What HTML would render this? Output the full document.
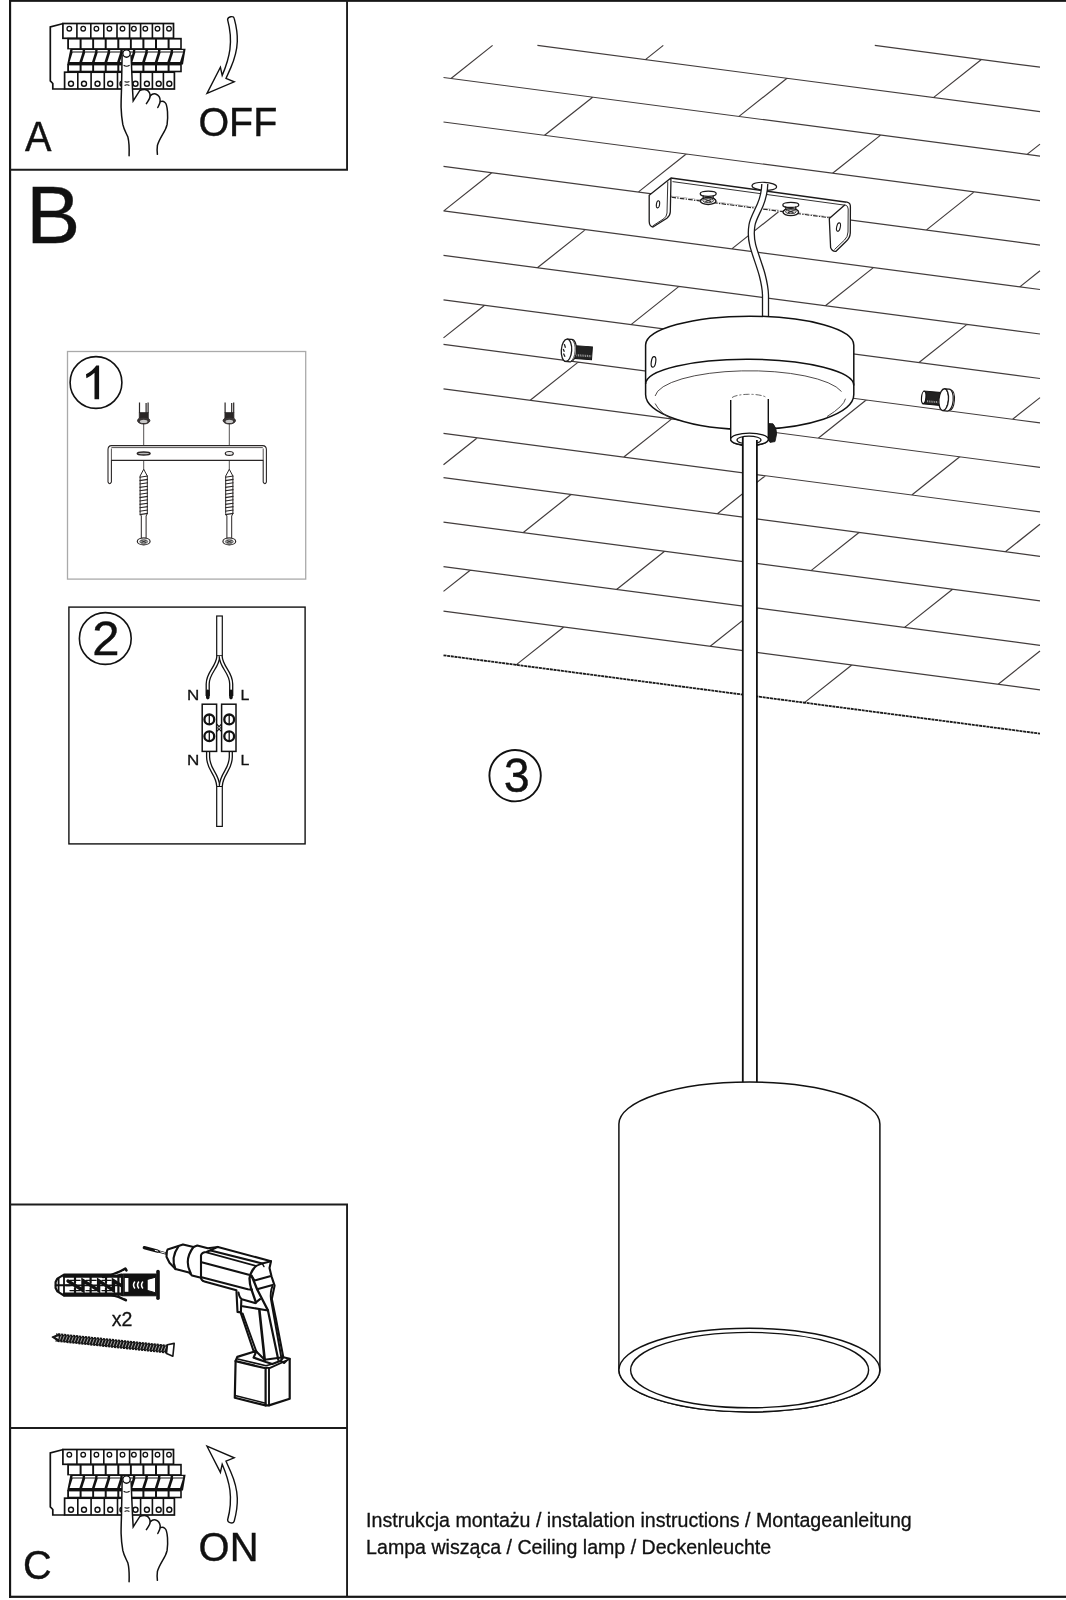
<!DOCTYPE html>
<html><head><meta charset="utf-8"><title>Instrukcja</title>
<style>
html,body{margin:0;padding:0;background:#fff}
svg{display:block;will-change:transform}
text{font-family:"Liberation Sans",sans-serif;fill:#111}
</style></head><body>
<svg width="1066" height="1600" viewBox="0 0 1066 1600">
<rect width="1066" height="1600" fill="#fff"/>
<path d="M874.8 45.4L1040 67.2M537.4 45.4L1040 111.6M443.5 77.5L1040 156.1M443.5 122L1040 200.6M443.5 166.4L1040 245.1M443.5 210.9L1040 289.5M443.5 255.4L1040 334M443.5 299.9L1040 378.5M443.5 344.3L1040 422.9M443.5 388.8L1040 467.4M443.5 433.3L1040 511.9M443.5 477.7L1040 556.3M443.5 522.2L1040 600.8M443.5 566.7L1040 645.3M443.5 611.1L1040 689.8M645.4 59.6L663.3 45.4M933.4 97.6L981.4 59.5M451 78.5L492.6 45.4M739 116.4L787 78.3M1027 154.4L1040 144.1M544.6 135.3L592.6 97.2M832.6 173.3L880.6 135.1M638.2 192.1L686.2 154M926.2 230.1L974.2 191.9M443.8 210.9L491.8 172.8M731.8 248.9L779.8 210.8M1019.8 286.9L1040 270.8M537.4 267.8L585.4 229.6M825.4 305.7L873.4 267.6M631 324.6L679 286.4M919 362.5L967 324.4M443.5 337.9L484.6 305.3M724.6 381.4L772.6 343.2M1012.6 419.3L1040 397.6M530.2 400.2L578.2 362.1M818.2 438.2L866.2 400M623.8 457L671.8 418.9M911.8 495L959.8 456.8M443.5 464.7L477.4 437.7M717.4 513.8L765.4 475.7M1005.4 551.8L1040 524.3M523 532.7L571 494.5M811 570.6L859 532.5M616.6 589.5L664.6 551.3M904.6 627.4L952.6 589.3M443.5 591.4L470.2 570.2M710.2 646.3L758.2 608.1M998.2 684.2L1040 651M515.8 665.1L563.8 627M803.8 703.1L851.8 665" fill="none" stroke="#433d3d" stroke-width="1.2"/>
<path d="M443.5 655.3L1040 733.6" fill="none" stroke="#1a1a1a" stroke-width="1.8" stroke-dasharray="3 0.7"/>
<path d="M670.9 178.1L649.2 195.2L649.2 221.5Q649.4 226.6 653 227L666.9 218.2Q670 216 670.3 212L670.9 183Z" fill="#fff" stroke="#1c1a1a" stroke-width="1.3" stroke-linejoin="round"/>
<path d="M667.8 181.5L667 213Q666.6 216.6 664 218.6L652.6 226" fill="none" stroke="#1c1a1a" stroke-width="0.9"/>
<ellipse cx="658" cy="204.3" rx="1.6" ry="3.6" fill="#fff" stroke="#1c1a1a" stroke-width="1.1" transform="rotate(8 658 204.3)"/>
<path d="M670.9 178.1L847 202.2" fill="none" stroke="#1c1a1a" stroke-width="1.5"/>
<path d="M672.5 181.6L845 205.2" fill="none" stroke="#1c1a1a" stroke-width="0.9"/>
<path d="M847 202.2Q850.6 203 850.4 207L850.3 233Q850 238 846 241.5L836 251.3Q832 251.6 830.6 247.5L829.3 218.6L845 204.8" fill="#fff" stroke="#1c1a1a" stroke-width="1.3" stroke-linejoin="round"/>
<path d="M845 204.8Q848.2 205.6 848.2 209L848 232Q847.8 237 844.5 240L834.4 249.6" fill="none" stroke="#1c1a1a" stroke-width="0.9"/>
<ellipse cx="838.5" cy="227.1" rx="1.8" ry="4.3" fill="#fff" stroke="#1c1a1a" stroke-width="1.1" transform="rotate(12 838.5 227.1)"/>
<path d="M671.5 197.2L828.5 217.6" fill="none" stroke="#fff" stroke-width="2.2"/>
<path d="M671.5 197.2L828.5 217.6" fill="none" stroke="#2a2828" stroke-width="1.2" stroke-dasharray="4.6 1.2 1.4 1.2"/>
<g transform="translate(708.2 198.4)">
<ellipse cx="0" cy="-4.6" rx="8" ry="2.6" fill="#fff" stroke="#1c1a1a" stroke-width="1.3"/>
<path d="M-5.4 -3Q-3.6 -0.6 -7.4 1.4M5.4 -3Q3.6 -0.6 7.4 1.4" fill="none" stroke="#1c1a1a" stroke-width="1.3"/>
<ellipse cx="0" cy="2.6" rx="7.8" ry="3.5" fill="#fff" stroke="#1c1a1a" stroke-width="1.4"/>
<ellipse cx="0" cy="2.2" rx="5.4" ry="2" fill="#d6d2d2" stroke="#333" stroke-width="0.9"/>
<path d="M-2.8 1.2L2.8 3.2M2.8 1.2L-2.8 3.2" stroke="#222" stroke-width="1"/>
</g>
<g transform="translate(790.8 209.5)">
<ellipse cx="0" cy="-4.6" rx="8" ry="2.6" fill="#fff" stroke="#1c1a1a" stroke-width="1.3"/>
<path d="M-5.4 -3Q-3.6 -0.6 -7.4 1.4M5.4 -3Q3.6 -0.6 7.4 1.4" fill="none" stroke="#1c1a1a" stroke-width="1.3"/>
<ellipse cx="0" cy="2.6" rx="7.8" ry="3.5" fill="#fff" stroke="#1c1a1a" stroke-width="1.4"/>
<ellipse cx="0" cy="2.2" rx="5.4" ry="2" fill="#d6d2d2" stroke="#333" stroke-width="0.9"/>
<path d="M-2.8 1.2L2.8 3.2M2.8 1.2L-2.8 3.2" stroke="#222" stroke-width="1"/>
</g>
<ellipse cx="764.3" cy="186.3" rx="12.3" ry="4" fill="#fff" stroke="#1c1a1a" stroke-width="1.2" transform="rotate(3 764.3 186.3)"/>
<path d="M764.8 184C764.6 190 763.6 197 760.2 205C757 212.5 753 219 752 225C750.8 232 751 238 752.7 245C755 254 759.5 265 762.2 275C764 282 765.3 288 765.5 295L765.5 320" fill="none" stroke="#1c1a1a" stroke-width="7.3"/>
<path d="M764.8 184C764.6 190 763.6 197 760.2 205C757 212.5 753 219 752 225C750.8 232 751 238 752.7 245C755 254 759.5 265 762.2 275C764 282 765.3 288 765.5 295L765.5 320" fill="none" stroke="#fff" stroke-width="4.7"/>
<g transform="translate(566.5 350.3) rotate(4)">
<path d="M9 -5.2L25.6 -5.2L25.6 7.6L9 7.6Z" fill="#222" stroke="#111" stroke-width="1"/>
<path d="M10 4.2L25 4.2" stroke="#999" stroke-width="2.2" stroke-dasharray="1 0.8"/>
<path d="M0 -11.2L4.5 -11.2A5.6 11.2 0 0 1 4.5 11.2L0 11.2Z" fill="#fff" stroke="#1c1a1a" stroke-width="1.2"/>
<ellipse cx="0" cy="0" rx="5.2" ry="11.2" fill="#fff" stroke="#1c1a1a" stroke-width="1.3"/>
<path d="M5 -10.5A5.2 11 0 0 1 5 10.5" fill="none" stroke="#1c1a1a" stroke-width="0.8"/>
<path d="M-2.6 -6L-1.2 -2.5M-3.4 -1L-2 1.6M-2.8 3.4L-1 6.5" stroke="#222" stroke-width="1.3"/>
</g>
<g transform="translate(947.2 400) rotate(5)">
<path d="M-24 -7L-4 -7L-4 6L-24 6Z" fill="#222" stroke="#111" stroke-width="1"/>
<path d="M-20 3L-6 3" stroke="#999" stroke-width="2" stroke-dasharray="1 0.8"/>
<ellipse cx="-23.6" cy="-0.5" rx="2.2" ry="6.2" fill="#fff" stroke="#111" stroke-width="1.2"/>
<ellipse cx="-3.5" cy="0" rx="4.8" ry="11" fill="#fff" stroke="#1c1a1a" stroke-width="1.3"/>
<path d="M-3.5 -11L1 -11A5 11 0 0 1 1 11L-3.5 11A4.8 11 0 0 0 -3.5 -11Z" fill="#fff" stroke="#1c1a1a" stroke-width="1.2"/>
<path d="M3.2 -10.4A5 10.6 0 0 1 3.2 10.4" fill="none" stroke="#1c1a1a" stroke-width="1"/>
</g>
<path d="M645.6 345A104.1 29 0 0 1 853.8 345.3L853.8 394.5A104.1 35 0 0 1 645.6 394.5Z" fill="#fff" stroke="#111" stroke-width="1.5" stroke-linejoin="round"/>
<path d="M645.6 384A104.1 25.5 0.4 0 1 853.8 385.5" fill="none" stroke="#111" stroke-width="1.5"/>
<path d="M655.1 396A94.6 27 0 0 1 841.5 391.5" fill="none" stroke="#3a3636" stroke-width="0.9"/>
<path d="M655.1 403.5Q660 413 671 418.4M845.5 398.7Q844 406 827 416.6" fill="none" stroke="#3a3636" stroke-width="0.9"/>
<ellipse cx="653.5" cy="361.9" rx="2.2" ry="5.3" fill="#fff" stroke="#111" stroke-width="1.2" transform="rotate(9 653.5 361.9)"/>
<path d="M730.7 400L730.7 439.5A18.8 6.2 0 0 0 768.3 439.5L768.3 399Z" fill="#fff" stroke="none"/>
<path d="M730.7 400L730.7 439.5A18.8 6.2 0 0 0 768.3 439.5L768.3 399" fill="none" stroke="#111" stroke-width="1.4"/>
<path d="M732 397.6A18 4.6 0 0 1 766 397.2" fill="none" stroke="#555" stroke-width="0.9" stroke-dasharray="6 2 2 2"/>
<ellipse cx="749.5" cy="439.3" rx="18.8" ry="6.2" fill="#fff" stroke="#111" stroke-width="1.3"/>
<ellipse cx="749" cy="440" rx="12" ry="3.9" fill="#fff" stroke="#111" stroke-width="1.2"/>
<path d="M768.6 423.5L773 423.8Q776.8 428 776.6 434L775 441.6L770 442.4L768.6 440Z" fill="#1d1d1d" stroke="#111" stroke-width="0.8"/>
<rect x="742.7" y="438.5" width="14.1" height="646" fill="#fff" stroke="none"/>
<path d="M742.8 437L742.8 1083M756.9 440L756.9 1083" fill="none" stroke="#111" stroke-width="1.8"/>
<path d="M618.9 1124A130.5 42 0 0 1 879.9 1124L879.9 1370.1A130.5 41.8 0 0 1 618.9 1370.1Z" fill="#fff" stroke="#111" stroke-width="1.5"/>
<ellipse cx="749.4" cy="1370.1" rx="130.5" ry="41.8" fill="#fff" stroke="#111" stroke-width="1.5"/>
<ellipse cx="749.6" cy="1370.1" rx="119" ry="37.7" fill="#fff" stroke="#111" stroke-width="1.4"/>
<circle cx="515.1" cy="775.7" r="25.7" fill="#fff" stroke="#111" stroke-width="1.9"/>
<text transform="translate(503.86 791.92) scale(0.9597 1)" font-size="48.48" stroke="#111" stroke-width="0.4">3</text>
<text transform="translate(366.1 1527) scale(0.975 1)" font-size="20.1" stroke="#111" stroke-width="0.3">Instrukcja montażu / instalation instructions / Montageanleitung</text>
<text transform="translate(366.1 1553.7) scale(0.975 1)" font-size="20.1" stroke="#111" stroke-width="0.3">Lampa wisząca / Ceiling lamp / Deckenleuchte</text>
<rect x="9" y="0" width="1057" height="1.85" fill="#161616"/>
<rect x="9" y="0" width="2.15" height="1597.9" fill="#161616"/>
<rect x="9" y="1595.7" width="1057" height="2.2" fill="#161616"/>
<path d="M347.05 0L347.05 169.7L10 169.7" fill="none" stroke="#1c1c1c" stroke-width="1.9"/>
<path d="M10 1204.5L347.05 1204.5L347.05 1596.5M10 1428.05L347.05 1428.05" fill="none" stroke="#1c1c1c" stroke-width="1.9"/>
<g><path d="M63.4 23.5L50.3 26.9L50.3 80.9L52.8 83.5L52.8 89L64.6 89" fill="#fff" stroke="#111" stroke-width="1.7" stroke-linejoin="miter"/>
<rect x="62.9" y="23.5" width="110.6" height="14.8" fill="#fff" stroke="#111" stroke-width="1.7"/>
<path d="M76.9 23.5V38M90.8 23.5V38M103.8 23.5V38M117 23.5V38M129.6 23.5V38M140.6 23.5V38M152.4 23.5V38M163.4 23.5V38" stroke="#111" stroke-width="1.6" fill="none"/>
<circle cx="69.3" cy="28.7" r="2.3" fill="#fff" stroke="#111" stroke-width="1.3"/>
<circle cx="83.2" cy="28.7" r="2.3" fill="#fff" stroke="#111" stroke-width="1.3"/>
<circle cx="96.4" cy="28.7" r="2.3" fill="#fff" stroke="#111" stroke-width="1.3"/>
<circle cx="109.4" cy="28.7" r="2.3" fill="#fff" stroke="#111" stroke-width="1.3"/>
<circle cx="122.5" cy="28.7" r="2.3" fill="#fff" stroke="#111" stroke-width="1.3"/>
<circle cx="133.9" cy="28.7" r="2.3" fill="#fff" stroke="#111" stroke-width="1.3"/>
<circle cx="145.3" cy="28.7" r="2.3" fill="#fff" stroke="#111" stroke-width="1.3"/>
<circle cx="157.5" cy="28.7" r="2.3" fill="#fff" stroke="#111" stroke-width="1.3"/>
<circle cx="169" cy="28.7" r="2.3" fill="#fff" stroke="#111" stroke-width="1.3"/>
<rect x="67.2" y="37.8" width="114.6" height="11.6" fill="#111"/>
<rect x="69" y="39.6" width="10.6" height="8.6" fill="#fff"/>
<rect x="81.6" y="39.6" width="10.6" height="8.6" fill="#fff"/>
<rect x="94.1" y="39.6" width="10.6" height="8.6" fill="#fff"/>
<rect x="106.7" y="39.6" width="10.6" height="8.6" fill="#fff"/>
<rect x="119.3" y="39.6" width="10.6" height="8.6" fill="#fff"/>
<rect x="131.8" y="39.6" width="10.6" height="8.6" fill="#fff"/>
<rect x="144.4" y="39.6" width="10.6" height="8.6" fill="#fff"/>
<rect x="157" y="39.6" width="10.6" height="8.6" fill="#fff"/>
<rect x="169.6" y="39.6" width="10.6" height="8.6" fill="#fff"/>
<path d="M70.4 48.8L185.6 48.8L183 64.6L67.2 64.6Z" fill="#111"/>
<path d="M72.6 49.9H82.6V51.5H72.2Z" fill="#fff"/>
<path d="M69.6 62L72.6 52.5L82.4 52.5L79.4 62Z" fill="#fff"/>
<path d="M85.2 49.9H95.2V51.5H84.8Z" fill="#fff"/>
<path d="M82.2 62L85.2 52.5L95 52.5L92 62Z" fill="#fff"/>
<path d="M97.7 49.9H107.7V51.5H97.3Z" fill="#fff"/>
<path d="M94.7 62L97.7 52.5L107.5 52.5L104.5 62Z" fill="#fff"/>
<path d="M110.3 49.9H120.3V51.5H109.9Z" fill="#fff"/>
<path d="M107.3 62L110.3 52.5L120.1 52.5L117.1 62Z" fill="#fff"/>
<path d="M122.9 49.9H132.9V51.5H122.5Z" fill="#fff"/>
<path d="M119.9 62L122.9 52.5L132.7 52.5L129.7 62Z" fill="#fff"/>
<path d="M135.4 49.9H145.4V51.5H135.1Z" fill="#fff"/>
<path d="M132.4 62L135.4 52.5L145.2 52.5L142.2 62Z" fill="#fff"/>
<path d="M148 49.9H158V51.5H147.6Z" fill="#fff"/>
<path d="M145 62L148 52.5L157.8 52.5L154.8 62Z" fill="#fff"/>
<path d="M160.6 49.9H170.6V51.5H160.2Z" fill="#fff"/>
<path d="M157.6 62L160.6 52.5L170.4 52.5L167.4 62Z" fill="#fff"/>
<path d="M173.2 49.9H183.2V51.5H172.8Z" fill="#fff"/>
<path d="M170.2 62L173.2 52.5L183 52.5L180 62Z" fill="#fff"/>
<rect x="67.2" y="64" width="114.6" height="8.3" fill="#111"/>
<rect x="69" y="65.4" width="10.6" height="5.3" fill="#fff"/>
<rect x="81.6" y="65.4" width="10.6" height="5.3" fill="#fff"/>
<rect x="94.1" y="65.4" width="10.6" height="5.3" fill="#fff"/>
<rect x="106.7" y="65.4" width="10.6" height="5.3" fill="#fff"/>
<rect x="119.3" y="65.4" width="10.6" height="5.3" fill="#fff"/>
<rect x="131.8" y="65.4" width="10.6" height="5.3" fill="#fff"/>
<rect x="144.4" y="65.4" width="10.6" height="5.3" fill="#fff"/>
<rect x="157" y="65.4" width="10.6" height="5.3" fill="#fff"/>
<rect x="169.6" y="65.4" width="10.6" height="5.3" fill="#fff"/>
<rect x="64.6" y="72.2" width="109.8" height="16.8" fill="#fff" stroke="#111" stroke-width="1.7"/>
<path d="M77.8 72.2V89M91.1 72.2V89M104.3 72.2V89M117.5 72.2V89M129.5 72.2V89M140.6 72.2V89M152.4 72.2V89M163.4 72.2V89" stroke="#111" stroke-width="1.6" fill="none"/>
<circle cx="71" cy="83.8" r="2.5" fill="#fff" stroke="#111" stroke-width="1.4"/>
<circle cx="84" cy="83.8" r="2.5" fill="#fff" stroke="#111" stroke-width="1.4"/>
<circle cx="97.5" cy="83.8" r="2.5" fill="#fff" stroke="#111" stroke-width="1.4"/>
<circle cx="110.2" cy="83.8" r="2.5" fill="#fff" stroke="#111" stroke-width="1.4"/>
<circle cx="122.5" cy="83.8" r="2.5" fill="#fff" stroke="#111" stroke-width="1.4"/>
<circle cx="135.5" cy="83.8" r="2.5" fill="#fff" stroke="#111" stroke-width="1.4"/>
<circle cx="146.9" cy="83.8" r="2.5" fill="#fff" stroke="#111" stroke-width="1.4"/>
<circle cx="158.7" cy="83.8" r="2.5" fill="#fff" stroke="#111" stroke-width="1.4"/>
<circle cx="169.3" cy="83.8" r="2.5" fill="#fff" stroke="#111" stroke-width="1.4"/>
<path d="M122.1 55.6L121.5 89C121.3 96 121 102 121.1 107.5C121.3 114 121.8 119 122.8 124.4C124 130 126.5 133.5 127.9 137.1C129.2 142 129.3 149 129.1 155.7L157.4 154.6C157 151 157 148.5 157.4 145.5C158.5 141.5 160.5 138 162.5 134.6C164.8 131 166.4 128 167.1 124.4C167.8 120 167.8 116 167.5 111.8C167.2 107.5 166.8 104 165 102.5C163.6 101.2 161.8 101 160.4 101.6C160.3 98 158.5 95 155.7 94C153.6 93.3 151.8 94.2 150.4 95.4C149.6 91.8 147.5 89.6 144.7 89.4C142.6 89.3 141 89.8 139.7 90.7L133.2 100.8L132.5 89L131.1 55.6Z" fill="#fff" stroke="none"/>
<path d="M122.1 55.6L121.5 89C121.3 96 121 102 121.1 107.5C121.3 114 121.8 119 122.8 124.4C124 130 126.5 133.5 127.9 137.1C129.2 142 129.3 149 129.1 155.7" fill="none" stroke="#111" stroke-width="1.5" stroke-linecap="round"/>
<path d="M131.1 55.6L132.5 89L133.2 100.8L139.7 90.7C141 89.8 142.6 89.3 144.7 89.4C147.5 89.6 149.6 91.8 150.2 95.2C150.4 98.5 148 101 146.4 103.7" fill="none" stroke="#111" stroke-width="1.5" stroke-linecap="round" stroke-linejoin="miter"/>
<path d="M150.4 95.6C151.8 94.2 153.6 93.3 155.7 94C158.5 95 160.3 98 160.2 101.2C160 103.6 158.8 105.5 157.8 107.5" fill="none" stroke="#111" stroke-width="1.5" stroke-linecap="round"/>
<path d="M160.4 101.6C161.8 101 163.6 101.2 165 102.5C166.8 104 167.2 107.5 167.5 111.8C167.8 116 167.8 120 167.1 124.4C166.4 128 164.8 131 162.5 134.6C160.5 138 158.5 141.5 157.4 145.5C157 148.5 157 151 157.4 154.3" fill="none" stroke="#111" stroke-width="1.5" stroke-linecap="round"/>
<circle cx="126.5" cy="53.5" r="3.7" fill="#fff" stroke="#111" stroke-width="1.4"/>
<path d="M123.6 65.2Q126.6 67.2 129.6 65.2" fill="none" stroke="#111" stroke-width="1.1"/>
<path d="M124.6 81.5Q127 82.8 129.4 81.5M124.6 85.4Q127 84.2 129.4 85.4" fill="none" stroke="#111" stroke-width="1.1"/></g>
<path d="M227.6 19.6C227.8 16.6 233.6 15.4 234.2 18.4C238.4 34 239.4 48 230.8 67.6L226 78.4L234.2 81.8L207 93.4L220.4 67.2L222.2 75.4C229.6 58 233.6 42 227.6 19.6Z" fill="#fff" stroke="#111" stroke-width="1.4" stroke-linejoin="miter"/>
<text transform="translate(24.90 151.30) scale(0.9543 1)" font-size="41.60" stroke="#111" stroke-width="0.4">A</text>
<text transform="translate(198.43 135.59) scale(0.9618 1)" font-size="40.99" stroke="#111" stroke-width="0.4">OFF</text>
<text transform="translate(26.32 242.70) scale(0.9972 1)" font-size="81.16" stroke="#111" stroke-width="0.4">B</text>
<g transform="translate(0 1426)"><path d="M63.4 23.5L50.3 26.9L50.3 80.9L52.8 83.5L52.8 89L64.6 89" fill="#fff" stroke="#111" stroke-width="1.7" stroke-linejoin="miter"/>
<rect x="62.9" y="23.5" width="110.6" height="14.8" fill="#fff" stroke="#111" stroke-width="1.7"/>
<path d="M76.9 23.5V38M90.8 23.5V38M103.8 23.5V38M117 23.5V38M129.6 23.5V38M140.6 23.5V38M152.4 23.5V38M163.4 23.5V38" stroke="#111" stroke-width="1.6" fill="none"/>
<circle cx="69.3" cy="28.7" r="2.3" fill="#fff" stroke="#111" stroke-width="1.3"/>
<circle cx="83.2" cy="28.7" r="2.3" fill="#fff" stroke="#111" stroke-width="1.3"/>
<circle cx="96.4" cy="28.7" r="2.3" fill="#fff" stroke="#111" stroke-width="1.3"/>
<circle cx="109.4" cy="28.7" r="2.3" fill="#fff" stroke="#111" stroke-width="1.3"/>
<circle cx="122.5" cy="28.7" r="2.3" fill="#fff" stroke="#111" stroke-width="1.3"/>
<circle cx="133.9" cy="28.7" r="2.3" fill="#fff" stroke="#111" stroke-width="1.3"/>
<circle cx="145.3" cy="28.7" r="2.3" fill="#fff" stroke="#111" stroke-width="1.3"/>
<circle cx="157.5" cy="28.7" r="2.3" fill="#fff" stroke="#111" stroke-width="1.3"/>
<circle cx="169" cy="28.7" r="2.3" fill="#fff" stroke="#111" stroke-width="1.3"/>
<rect x="67.2" y="37.8" width="114.6" height="11.6" fill="#111"/>
<rect x="69" y="39.6" width="10.6" height="8.6" fill="#fff"/>
<rect x="81.6" y="39.6" width="10.6" height="8.6" fill="#fff"/>
<rect x="94.1" y="39.6" width="10.6" height="8.6" fill="#fff"/>
<rect x="106.7" y="39.6" width="10.6" height="8.6" fill="#fff"/>
<rect x="119.3" y="39.6" width="10.6" height="8.6" fill="#fff"/>
<rect x="131.8" y="39.6" width="10.6" height="8.6" fill="#fff"/>
<rect x="144.4" y="39.6" width="10.6" height="8.6" fill="#fff"/>
<rect x="157" y="39.6" width="10.6" height="8.6" fill="#fff"/>
<rect x="169.6" y="39.6" width="10.6" height="8.6" fill="#fff"/>
<path d="M70.4 48.8L185.6 48.8L183 64.6L67.2 64.6Z" fill="#111"/>
<path d="M72.6 49.9H82.6V51.5H72.2Z" fill="#fff"/>
<path d="M69.6 62L72.6 52.5L82.4 52.5L79.4 62Z" fill="#fff"/>
<path d="M85.2 49.9H95.2V51.5H84.8Z" fill="#fff"/>
<path d="M82.2 62L85.2 52.5L95 52.5L92 62Z" fill="#fff"/>
<path d="M97.7 49.9H107.7V51.5H97.3Z" fill="#fff"/>
<path d="M94.7 62L97.7 52.5L107.5 52.5L104.5 62Z" fill="#fff"/>
<path d="M110.3 49.9H120.3V51.5H109.9Z" fill="#fff"/>
<path d="M107.3 62L110.3 52.5L120.1 52.5L117.1 62Z" fill="#fff"/>
<path d="M122.9 49.9H132.9V51.5H122.5Z" fill="#fff"/>
<path d="M119.9 62L122.9 52.5L132.7 52.5L129.7 62Z" fill="#fff"/>
<path d="M135.4 49.9H145.4V51.5H135.1Z" fill="#fff"/>
<path d="M132.4 62L135.4 52.5L145.2 52.5L142.2 62Z" fill="#fff"/>
<path d="M148 49.9H158V51.5H147.6Z" fill="#fff"/>
<path d="M145 62L148 52.5L157.8 52.5L154.8 62Z" fill="#fff"/>
<path d="M160.6 49.9H170.6V51.5H160.2Z" fill="#fff"/>
<path d="M157.6 62L160.6 52.5L170.4 52.5L167.4 62Z" fill="#fff"/>
<path d="M173.2 49.9H183.2V51.5H172.8Z" fill="#fff"/>
<path d="M170.2 62L173.2 52.5L183 52.5L180 62Z" fill="#fff"/>
<rect x="67.2" y="64" width="114.6" height="8.3" fill="#111"/>
<rect x="69" y="65.4" width="10.6" height="5.3" fill="#fff"/>
<rect x="81.6" y="65.4" width="10.6" height="5.3" fill="#fff"/>
<rect x="94.1" y="65.4" width="10.6" height="5.3" fill="#fff"/>
<rect x="106.7" y="65.4" width="10.6" height="5.3" fill="#fff"/>
<rect x="119.3" y="65.4" width="10.6" height="5.3" fill="#fff"/>
<rect x="131.8" y="65.4" width="10.6" height="5.3" fill="#fff"/>
<rect x="144.4" y="65.4" width="10.6" height="5.3" fill="#fff"/>
<rect x="157" y="65.4" width="10.6" height="5.3" fill="#fff"/>
<rect x="169.6" y="65.4" width="10.6" height="5.3" fill="#fff"/>
<rect x="64.6" y="72.2" width="109.8" height="16.8" fill="#fff" stroke="#111" stroke-width="1.7"/>
<path d="M77.8 72.2V89M91.1 72.2V89M104.3 72.2V89M117.5 72.2V89M129.5 72.2V89M140.6 72.2V89M152.4 72.2V89M163.4 72.2V89" stroke="#111" stroke-width="1.6" fill="none"/>
<circle cx="71" cy="83.8" r="2.5" fill="#fff" stroke="#111" stroke-width="1.4"/>
<circle cx="84" cy="83.8" r="2.5" fill="#fff" stroke="#111" stroke-width="1.4"/>
<circle cx="97.5" cy="83.8" r="2.5" fill="#fff" stroke="#111" stroke-width="1.4"/>
<circle cx="110.2" cy="83.8" r="2.5" fill="#fff" stroke="#111" stroke-width="1.4"/>
<circle cx="122.5" cy="83.8" r="2.5" fill="#fff" stroke="#111" stroke-width="1.4"/>
<circle cx="135.5" cy="83.8" r="2.5" fill="#fff" stroke="#111" stroke-width="1.4"/>
<circle cx="146.9" cy="83.8" r="2.5" fill="#fff" stroke="#111" stroke-width="1.4"/>
<circle cx="158.7" cy="83.8" r="2.5" fill="#fff" stroke="#111" stroke-width="1.4"/>
<circle cx="169.3" cy="83.8" r="2.5" fill="#fff" stroke="#111" stroke-width="1.4"/>
<path d="M122.1 55.6L121.5 89C121.3 96 121 102 121.1 107.5C121.3 114 121.8 119 122.8 124.4C124 130 126.5 133.5 127.9 137.1C129.2 142 129.3 149 129.1 155.7L157.4 154.6C157 151 157 148.5 157.4 145.5C158.5 141.5 160.5 138 162.5 134.6C164.8 131 166.4 128 167.1 124.4C167.8 120 167.8 116 167.5 111.8C167.2 107.5 166.8 104 165 102.5C163.6 101.2 161.8 101 160.4 101.6C160.3 98 158.5 95 155.7 94C153.6 93.3 151.8 94.2 150.4 95.4C149.6 91.8 147.5 89.6 144.7 89.4C142.6 89.3 141 89.8 139.7 90.7L133.2 100.8L132.5 89L131.1 55.6Z" fill="#fff" stroke="none"/>
<path d="M122.1 55.6L121.5 89C121.3 96 121 102 121.1 107.5C121.3 114 121.8 119 122.8 124.4C124 130 126.5 133.5 127.9 137.1C129.2 142 129.3 149 129.1 155.7" fill="none" stroke="#111" stroke-width="1.5" stroke-linecap="round"/>
<path d="M131.1 55.6L132.5 89L133.2 100.8L139.7 90.7C141 89.8 142.6 89.3 144.7 89.4C147.5 89.6 149.6 91.8 150.2 95.2C150.4 98.5 148 101 146.4 103.7" fill="none" stroke="#111" stroke-width="1.5" stroke-linecap="round" stroke-linejoin="miter"/>
<path d="M150.4 95.6C151.8 94.2 153.6 93.3 155.7 94C158.5 95 160.3 98 160.2 101.2C160 103.6 158.8 105.5 157.8 107.5" fill="none" stroke="#111" stroke-width="1.5" stroke-linecap="round"/>
<path d="M160.4 101.6C161.8 101 163.6 101.2 165 102.5C166.8 104 167.2 107.5 167.5 111.8C167.8 116 167.8 120 167.1 124.4C166.4 128 164.8 131 162.5 134.6C160.5 138 158.5 141.5 157.4 145.5C157 148.5 157 151 157.4 154.3" fill="none" stroke="#111" stroke-width="1.5" stroke-linecap="round"/>
<circle cx="126.5" cy="53.5" r="3.7" fill="#fff" stroke="#111" stroke-width="1.4"/>
<path d="M123.6 65.2Q126.6 67.2 129.6 65.2" fill="none" stroke="#111" stroke-width="1.1"/>
<path d="M124.6 81.5Q127 82.8 129.4 81.5M124.6 85.4Q127 84.2 129.4 85.4" fill="none" stroke="#111" stroke-width="1.1"/></g>
<g transform="translate(0 1539.6) scale(1 -1)"><path d="M227.6 19.6C227.8 16.6 233.6 15.4 234.2 18.4C238.4 34 239.4 48 230.8 67.6L226 78.4L234.2 81.8L207 93.4L220.4 67.2L222.2 75.4C229.6 58 233.6 42 227.6 19.6Z" fill="#fff" stroke="#111" stroke-width="1.4" stroke-linejoin="miter"/></g>
<text transform="translate(23.12 1578.60) scale(0.9851 1)" font-size="40.28" stroke="#111" stroke-width="0.4">C</text>
<text transform="translate(198.60 1560.59) scale(0.9641 1)" font-size="41.41" stroke="#111" stroke-width="0.4">ON</text>
<rect x="67.5" y="351.5" width="238.2" height="227.6" fill="#fff" stroke="#aaa" stroke-width="1.3"/>
<circle cx="96" cy="382.5" r="25.9" fill="#fff" stroke="#111" stroke-width="1.6"/>
<path d="M99.1 365.4V399.2H94.5V372.8C92.2 375 89.5 376.8 86.4 378.2L86 374.2C90.2 372 93.8 369 96.3 365.4Z" fill="#111"/>
<path d="M143.7 423V448M143.7 456V470M229.3 423V448M229.3 456V470" stroke="#2a2626" stroke-width="0.8" fill="none"/>
<path d="M111.5 445.6L262.6 445.6Q266.4 445.8 266.4 449.6L266.4 482Q265 485.6 263.2 482L263.2 460.4L111.4 460.4L111.4 482Q109.6 485.6 108 482L108 449.6Q108 445.8 111.5 445.6Z" fill="#fff" stroke="#2a2626" stroke-width="1.1" stroke-linejoin="round"/>
<path d="M111.4 447.6L262.8 447.6M111.4 460.4L111.4 448.5M263.2 460.4L263.2 448.5" fill="none" stroke="#2a2626" stroke-width="0.8"/>
<ellipse cx="143.7" cy="453.6" rx="6.4" ry="1.5" fill="#bbb" stroke="#2a2626" stroke-width="1.5"/>
<ellipse cx="229.3" cy="453.4" rx="4" ry="1.9" fill="#eee" stroke="#2a2626" stroke-width="1.2"/>
<path d="M139.5 402.5V413M148.1 402.5V413M146.1 403V413" fill="none" stroke="#2a2626" stroke-width="1.2"/>
<path d="M139.3 412.6H148.3V418H139.3Z" fill="#2a2626" stroke="#2a2626" stroke-width="0.8"/>
<ellipse cx="143.7" cy="420.6" rx="6.2" ry="3.4" fill="#3a3636" stroke="#2a2626" stroke-width="0.9"/>
<ellipse cx="143.7" cy="421.4" rx="3.8" ry="1.6" fill="#c8c8c8" stroke="none"/>
<path d="M143.7 469.3L147.3 476V513.6L146.1 516V538.2H141.3V516L140.1 513.6V476Z" fill="#fff" stroke="#2a2626" stroke-width="1" stroke-linejoin="round"/>
<path d="M139.5 477.2L147.9 476M139.5 480.6L147.9 479.4M139.5 484L147.9 482.8M139.5 487.4L147.9 486.2M139.5 490.8L147.9 489.6M139.5 494.2L147.9 493M139.5 497.6L147.9 496.4M139.5 501L147.9 499.8M139.5 504.4L147.9 503.2M139.5 507.8L147.9 506.6M139.5 511.2L147.9 510M139.5 514.6L147.9 513.4" fill="none" stroke="#2a2626" stroke-width="1.1"/>
<ellipse cx="143.7" cy="541.4" rx="6.4" ry="3.4" fill="#fff" stroke="#2a2626" stroke-width="1.2"/>
<ellipse cx="143.7" cy="541.6" rx="4" ry="2" fill="#999" stroke="#444" stroke-width="0.6"/>
<path d="M141.3 540.4L146.1 542.8M146.1 540.4L141.3 542.8" stroke="#222" stroke-width="0.7"/>
<path d="M225.1 402.5V413M233.7 402.5V413M231.7 403V413" fill="none" stroke="#2a2626" stroke-width="1.2"/>
<path d="M224.9 412.6H233.9V418H224.9Z" fill="#2a2626" stroke="#2a2626" stroke-width="0.8"/>
<ellipse cx="229.3" cy="420.6" rx="6.2" ry="3.4" fill="#3a3636" stroke="#2a2626" stroke-width="0.9"/>
<ellipse cx="229.3" cy="421.4" rx="3.8" ry="1.6" fill="#c8c8c8" stroke="none"/>
<path d="M229.3 469.3L232.9 476V513.6L231.7 516V538.2H226.9V516L225.7 513.6V476Z" fill="#fff" stroke="#2a2626" stroke-width="1" stroke-linejoin="round"/>
<path d="M225.1 477.2L233.5 476M225.1 480.6L233.5 479.4M225.1 484L233.5 482.8M225.1 487.4L233.5 486.2M225.1 490.8L233.5 489.6M225.1 494.2L233.5 493M225.1 497.6L233.5 496.4M225.1 501L233.5 499.8M225.1 504.4L233.5 503.2M225.1 507.8L233.5 506.6M225.1 511.2L233.5 510M225.1 514.6L233.5 513.4" fill="none" stroke="#2a2626" stroke-width="1.1"/>
<ellipse cx="229.3" cy="541.4" rx="6.4" ry="3.4" fill="#fff" stroke="#2a2626" stroke-width="1.2"/>
<ellipse cx="229.3" cy="541.6" rx="4" ry="2" fill="#999" stroke="#444" stroke-width="0.6"/>
<path d="M226.9 540.4L231.7 542.8M231.7 540.4L226.9 542.8" stroke="#222" stroke-width="0.7"/>
<rect x="68.9" y="607.1" width="236.2" height="236.8" fill="#fff" stroke="#111" stroke-width="1.4"/>
<circle cx="105.3" cy="638.5" r="25.9" fill="#fff" stroke="#111" stroke-width="1.6"/>
<text transform="translate(92.35 655.20) scale(1.0114 1)" font-size="48.46" stroke="#111" stroke-width="0.4">2</text>
<rect x="216.7" y="616" width="5.6" height="39.8" fill="#fff" stroke="#111" stroke-width="1.2"/>
<rect x="216.7" y="786.4" width="5.6" height="40" fill="#fff" stroke="#111" stroke-width="1.2"/>
<path d="M218.4 656C217.6 668 207.7 672 207.7 684V696" fill="none" stroke="#111" stroke-width="4.3"/>
<path d="M218.4 656C217.6 668 207.7 672 207.7 684V696" fill="none" stroke="#fff" stroke-width="1.7"/>
<path d="M220.6 656C221.4 668 231.2 672 231.2 684V696" fill="none" stroke="#111" stroke-width="4.3"/>
<path d="M220.6 656C221.4 668 231.2 672 231.2 684V696" fill="none" stroke="#fff" stroke-width="1.7"/>
<path d="M208.1 751.5V757C208.1 770 217.4 773 218.2 786" fill="none" stroke="#111" stroke-width="4.3"/>
<path d="M208.1 751.5V757C208.1 770 217.4 773 218.2 786" fill="none" stroke="#fff" stroke-width="1.7"/>
<path d="M230.8 751.5V757C230.8 770 221.6 773 220.8 786" fill="none" stroke="#111" stroke-width="4.3"/>
<path d="M230.8 751.5V757C230.8 770 221.6 773 220.8 786" fill="none" stroke="#fff" stroke-width="1.7"/>
<path d="M207.8 691.4V697.6M231 691.4V697.6" stroke="#111" stroke-width="3.6" fill="none" stroke-linecap="round"/>
<rect x="202.2" y="704.2" width="14.4" height="47.2" fill="#fff" stroke="#111" stroke-width="1.5"/>
<rect x="221.6" y="704.2" width="14.4" height="47.2" fill="#fff" stroke="#111" stroke-width="1.5"/>
<path d="M216.6 724L219.1 726.6L221.6 724M216.6 731.6L219.1 729L221.6 731.6" fill="none" stroke="#111" stroke-width="1.1"/>
<circle cx="219.1" cy="727.8" r="1.3" fill="#fff" stroke="#111" stroke-width="1"/>
<circle cx="209.3" cy="719.4" r="4.9" fill="#fff" stroke="#111" stroke-width="2.3"/>
<path d="M209.3 714.9V723.9" stroke="#111" stroke-width="1.3"/>
<circle cx="229.2" cy="719.4" r="4.9" fill="#fff" stroke="#111" stroke-width="2.3"/>
<path d="M229.2 714.9V723.9" stroke="#111" stroke-width="1.3"/>
<circle cx="209.3" cy="736.3" r="4.9" fill="#fff" stroke="#111" stroke-width="2.3"/>
<path d="M209.3 731.8V740.8" stroke="#111" stroke-width="1.3"/>
<circle cx="229.2" cy="736.3" r="4.9" fill="#fff" stroke="#111" stroke-width="2.3"/>
<path d="M229.2 731.8V740.8" stroke="#111" stroke-width="1.3"/>
<text transform="translate(186.99 700.10) scale(1.0949 1)" font-size="15.56" stroke="#111" stroke-width="0.3">N</text>
<text transform="translate(240.59 700.10) scale(1.0222 1)" font-size="15.56" stroke="#111" stroke-width="0.3">L</text>
<text transform="translate(186.99 764.50) scale(1.1052 1)" font-size="15.42" stroke="#111" stroke-width="0.3">N</text>
<text transform="translate(240.59 764.50) scale(1.0318 1)" font-size="15.42" stroke="#111" stroke-width="0.3">L</text>
<g fill="none" stroke="#111" stroke-linejoin="round" stroke-linecap="round">
<path d="M55.6 1282L57.4 1278.6L64 1274.6L122 1274.6L122 1295.6L64 1295.6L57.4 1291.4L55.6 1288Z" fill="#fff" stroke-width="2.2"/>
<path d="M103 1277Q115 1275 125.4 1268.6L126.4 1270.4M112 1295Q120 1296.6 125.8 1300.2" stroke-width="2.6"/>
<path d="M110 1276.6Q118 1274.6 124.6 1271M115 1294.4Q120 1295.2 124 1297.6" stroke="#fff" stroke-width="0.8"/>
<rect x="123.2" y="1274" width="33" height="21.8" fill="#111" stroke-width="1"/>
<path d="M147.4 1279.4L155.6 1277.2V1292.8L147.4 1290.4Z" fill="#fff" stroke-width="1"/>
<rect x="124.8" y="1278" width="3.6" height="13.8" fill="#fff" stroke="none"/>
<path d="M134.6 1282Q132.4 1285 134.6 1288M138.6 1282Q136.4 1285 138.6 1288M142.6 1282Q140.4 1285 142.6 1288" stroke="#fff" stroke-width="1.5"/>
<path d="M158 1271.6V1298.2" stroke-width="3.6"/>
<path d="M64 1275V1295.4M58.6 1278.4V1291.8" stroke-width="1.8"/>
<path d="M55.8 1285.2H70" stroke-width="2"/>
<path d="M64 1276.2H122M64 1294H122" stroke-width="3"/>
<path d="M68 1281L83 1290.4V1280.6L98.6 1290.4V1280.6L113.4 1290.4V1280.6L121 1285.4" stroke-width="3.4" stroke-linejoin="miter"/>
<path d="M66 1285.4H122" stroke-width="1.6"/>
<path d="M70 1280.4H80M70 1290.6H80M86 1280.4H96M86 1290.6H96M102 1280.4H111M102 1290.6H111" stroke-width="1.3"/>
<path d="M75 1275.6V1283M90.6 1275.6V1283M106 1275.6V1283M75 1288V1295M90.6 1288V1295M106 1288V1295M118.4 1276V1295" stroke-width="2.2"/>
</g>
<text transform="translate(111.76 1325.50) scale(0.9669 1)" font-size="20.22" stroke="#111" stroke-width="0.3">x2</text>
<g transform="translate(52 1337) rotate(6)">
<path d="M4 0H116" stroke="#161616" stroke-width="8.8" stroke-dasharray="2.2 0.8" stroke-dashoffset="1.2" fill="none"/>
<path d="M5 0H116" stroke="#161616" stroke-width="6.8" fill="none"/>
<path d="M9.2 -2.5L7.8 2.5M12.2 -2.5L10.8 2.5M15.2 -2.5L13.8 2.5M18.2 -2.5L16.8 2.5M21.2 -2.5L19.8 2.5M24.2 -2.5L22.8 2.5M27.2 -2.5L25.8 2.5M30.2 -2.5L28.8 2.5M33.2 -2.5L31.8 2.5M36.2 -2.5L34.8 2.5M39.2 -2.5L37.8 2.5M42.2 -2.5L40.8 2.5M45.2 -2.5L43.8 2.5M48.2 -2.5L46.8 2.5M51.2 -2.5L49.8 2.5M54.2 -2.5L52.8 2.5M57.2 -2.5L55.8 2.5M60.2 -2.5L58.8 2.5M63.2 -2.5L61.8 2.5M66.2 -2.5L64.8 2.5M69.2 -2.5L67.8 2.5M72.2 -2.5L70.8 2.5M75.2 -2.5L73.8 2.5M78.2 -2.5L76.8 2.5M81.2 -2.5L79.8 2.5M84.2 -2.5L82.8 2.5M87.2 -2.5L85.8 2.5M90.2 -2.5L88.8 2.5M93.2 -2.5L91.8 2.5M96.2 -2.5L94.8 2.5M99.2 -2.5L97.8 2.5M102.2 -2.5L100.8 2.5M105.2 -2.5L103.8 2.5M108.2 -2.5L106.8 2.5M111.2 -2.5L109.8 2.5M114.2 -2.5L112.8 2.5" stroke="#c4c4c4" stroke-width="0.8" fill="none"/>
<path d="M0.2 0L7 -3.6L7 3.6Z" fill="#161616" stroke="#161616" stroke-width="1.2" stroke-linejoin="round"/>
<path d="M3.4 0L6.6 -1.4L6.6 1.4Z" fill="#eee"/>
<path d="M115.6 -4.4L122.2 -6.4L122.2 6.4L115.6 4.4Z" fill="#fff" stroke="#161616" stroke-width="1.6" stroke-linejoin="round"/>
</g>
<g fill="none" stroke="#111" stroke-width="2.1" stroke-linejoin="round" stroke-linecap="round">
<path d="M144.3 1247.6L157.5 1251.1" stroke-width="3.3"/>
<path d="M157.5 1251.1L166.5 1253.6" stroke-width="2.2"/>
<path d="M155.2 1250.4L157.8 1251.1M160.6 1251.9L165 1253.1" stroke="#fff" stroke-width="1"/>
<path d="M166.9 1251.1L167.6 1249.6L183 1244.4L193.5 1247L197.3 1245.5L207.8 1248.3L218 1247L216 1256L203.3 1280.8L201 1277.8L192 1275.5L189 1272.5L175.5 1269.1L169.5 1262.8L166.5 1256.8Z" fill="#fff"/>
<path d="M178.5 1246.3Q170.4 1257.5 175.5 1269.1"/>
<path d="M193.5 1247Q183.6 1260 190.8 1273.2"/>
<path d="M201 1255.3Q202 1252.2 206.5 1252L217.9 1246.9L271 1261.3L269.5 1268L271.5 1276.3L274.6 1285.6L271.8 1299L275.7 1317.6L283.3 1357.3L264.7 1359.8L256.3 1351.4L253.4 1350.5L240.6 1312.4L237.5 1311.9L236.4 1290.2L204.4 1281.4Q201.4 1280.6 201 1277.8Z" fill="#fff"/>
<path d="M210.6 1250.5L262.2 1263.4L271 1261.3"/>
<path d="M206.5 1252.3L256 1266L262.2 1263.4" stroke-width="1.8"/>
<path d="M262.2 1263.4L264 1266.6" stroke-width="1.4"/>
<path d="M201.6 1262.3L248.8 1274.7"/>
<path d="M201.6 1277.2L247.8 1289.2L252 1289.6"/>
<path d="M256 1266Q250.4 1271.5 249.5 1278.3Q249.6 1284 251.4 1289.4L256 1302.6" stroke-width="2.3"/>
<path d="M252.2 1277L254.6 1280.6L270 1276.3M257.1 1289.2L272.6 1285"/>
<path d="M251.6 1275.8L257.1 1289.2L267.9 1310.3" stroke-width="2.3"/>
<path d="M272.4 1286.4Q270 1292 271 1299.6L281.4 1358" stroke-width="1.9"/>
<path d="M238.5 1292.6Q239.4 1297.6 241.8 1299.2L255 1303.1L260 1299.2"/>
<path d="M241.3 1300.4L240.9 1312.2"/>
<path d="M242.6 1306.2L266.4 1310.3"/>
<path d="M242.6 1313.4L256.3 1351.4" stroke-width="1.9"/>
<path d="M259.4 1310.4L264.7 1359.8" stroke-width="2.6"/>
<path d="M267.9 1310.3L278.3 1359.8" stroke-width="2.2"/>
<path d="M235.6 1361L237.3 1356.9L253.8 1351.8L256.3 1351.4L253.6 1357.6L266 1362L272.3 1364L280.8 1360.7L283.3 1357.3L289.7 1358.8L289.7 1398.7L269 1405.4L265.6 1405.4L234.8 1397.8Z" fill="#fff" stroke-width="2.2"/>
<path d="M235.6 1361.1L265.6 1368.3L265.6 1405.4" stroke-width="2.2"/>
<path d="M269 1368.3L269 1405.4M269 1368.3L289.7 1359M265.6 1368.3Q267.3 1367 269 1368.3" stroke-width="1.9"/>
<path d="M237.7 1359L266 1365.7L272.3 1364" stroke-width="1.6"/>
<path d="M235 1395.6L265.6 1403.2" stroke-width="1.5"/>
<path d="M280.8 1360.7L284.2 1363.2L286.7 1360.7" stroke-width="1.7"/>
</g>
</svg>
</body></html>
